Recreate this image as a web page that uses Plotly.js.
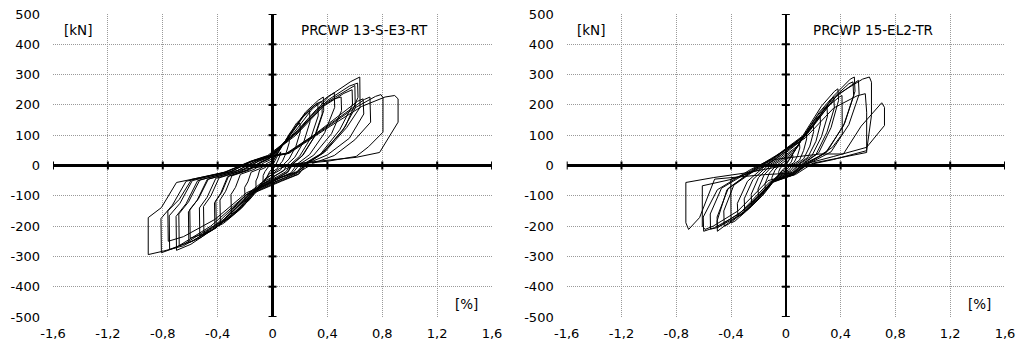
<!DOCTYPE html>
<html>
<head>
<meta charset="utf-8">
<script src="https://cdn.plot.ly/plotly-3.0.1.min.js"></script>
<style>html,body{margin:0;padding:0;background:#fff;}#chart{width:1021px;height:344px;}</style>
</head>
<body>
<div id="chart"></div>
<script>
// ---- tick labels ----
const xTicks = [-1.6, -1.2, -0.8, -0.4, 0, 0.4, 0.8, 1.2, 1.6];
const xTickText = ['-1,6', '-1,2', '-0,8', '-0,4', '0', '0,4', '0,8', '1,2', '1,6'];
const yTicks = [-500, -400, -300, -200, -100, 0, 100, 200, 300, 400, 500];
const yTickText = ['-500', '-400', '-300', '-200', '-100', '0', '100', '200', '300', '400', '500'];

// ---- titles / units ----
const titleLeft = 'PRCWP 13-S-E3-RT';
const titleRight = 'PRCWP 15-EL2-TR';
const unitForce = '[kN]';
const unitDrift = '[%]';

// ---- specimen PRCWP 13-S-E3-RT : [drift %, force kN] ----
const loops13 = [
[0,0],[0.02,18],[0.04,35],[0.06,45],[0.055,34],[0.04,18],[0.025,2],[0.015,-6],[0.005,-10],[-0.02,-19],[-0.04,-38],[-0.06,-51],[-0.07,-55],[-0.068,-33],[-0.055,-20],[-0.03,-4],[-0.015,4],[-0.004,7],
[0.035,38],[0.08,74],[0.108,90],[0.12,95],[0.122,76],[0.1,43],[0.072,14],[0.048,2],[0.036,-10],[0.012,-17],[-0.03,-30],[-0.066,-60],[-0.102,-79],[-0.12,-85],[-0.121,-51],[-0.108,-38],[-0.094,-15],[-0.054,-7],[-0.024,5],[-0.006,10],
[0.06,56],[0.13,109],[0.18,133],[0.2,140],[0.203,112],[0.17,63],[0.12,21],[0.08,3],[0.06,-14],[0.02,-25],[-0.05,-42],[-0.11,-84],[-0.17,-112],[-0.2,-120],[-0.203,-72],[-0.18,-54],[-0.156,-22],[-0.09,-10],[-0.04,7],[-0.01,14],
[0.08,72],[0.175,140],[0.243,171],[0.27,180],[0.273,144],[0.23,81],[0.162,27],[0.108,4],[0.081,-18],[0.027,-32],[-0.075,-56],[-0.165,-112],[-0.255,-149],[-0.3,-160],[-0.303,-96],[-0.27,-72],[-0.234,-29],[-0.135,-13],[-0.06,10],[-0.015,19],
[0.1,82],[0.215,160],[0.297,195],[0.33,205],[0.333,164],[0.28,92],[0.198,31],[0.132,4],[0.099,-20],[0.033,-37],[-0.095,-66],[-0.209,-133],[-0.323,-177],[-0.38,-190],[-0.383,-114],[-0.342,-85],[-0.296,-34],[-0.171,-15],[-0.076,11],[-0.019,23],
[0.11,90],[0.24,176],[0.333,215],[0.37,226],[0.373,181],[0.315,102],[0.222,34],[0.148,5],[0.111,-23],[0.037,-41],[-0.105,-72],[-0.231,-143],[-0.357,-191],[-0.42,-205],[-0.423,-123],[-0.378,-92],[-0.328,-37],[-0.189,-16],[-0.084,12],[-0.021,25],
[0.1,80],[0.23,165],[0.32,204],[0.36,212],[0.362,170],[0.306,96],[0.216,32],[0.144,5],[0.108,-22],[0.036,-40],[-0.1,-68],[-0.226,-136],[-0.349,-181],[-0.41,-195],[-0.413,-117],[-0.369,-88],[-0.32,-35],[-0.185,-15],[-0.082,12],[-0.02,24],
[0.135,96],[0.29,187],[0.405,228],[0.45,240],[0.453,192],[0.38,108],[0.27,36],[0.18,5],[0.135,-24],[0.045,-43],[-0.125,-79],[-0.275,-158],[-0.425,-209],[-0.5,-225],[-0.503,-135],[-0.45,-101],[-0.39,-41],[-0.225,-18],[-0.1,14],[-0.025,27],
[0.15,100],[0.32,185],[0.45,220],[0.5,226],[0.503,181],[0.43,105],[0.3,34],[0.2,5],[0.15,-23],[0.05,-41],[-0.13,-82],[-0.29,-163],[-0.45,-217],[-0.53,-233],[-0.533,-140],[-0.477,-105],[-0.413,-42],[-0.24,-19],[-0.106,14],[-0.027,28],
[0.18,110],[0.38,205],[0.54,250],[0.6,264],[0.603,190],[0.51,115],[0.36,40],[0.24,6],[0.18,-26],[0.06,-47],[-0.15,-89],[-0.335,-178],[-0.52,-237],[-0.61,-255],[-0.613,-153],[-0.55,-115],[-0.476,-46],[-0.27,-20],[-0.12,15],[-0.03,30],
[0.17,100],[0.37,195],[0.52,238],[0.58,250],[0.583,200],[0.49,118],[0.35,38],[0.23,6],[0.17,-25],[0.06,-45],[-0.15,-85],[-0.33,-170],[-0.51,-226],[-0.6,-240],[-0.603,-145],[-0.54,-110],[-0.468,-45],[-0.27,-20],[-0.12,15],[-0.03,30],
[0.19,117],[0.41,228],[0.57,277],[0.636,292],[0.638,192],[0.54,125],[0.38,44],[0.25,6],[0.19,-29],[0.064,-52],[-0.175,-98],[-0.385,-196],[-0.595,-260],[-0.7,-280],[-0.703,-168],[-0.63,-126],[-0.546,-50],[-0.315,-22],[-0.14,17],[-0.035,33],
[0.18,108],[0.4,215],[0.56,262],[0.62,272],[0.623,225],[0.53,128],[0.37,42],[0.25,6],[0.19,-28],[0.062,-50],[-0.17,-95],[-0.374,-188],[-0.578,-248],[-0.68,-265],[-0.683,-160],[-0.612,-120],[-0.53,-48],[-0.306,-21],[-0.136,16],[-0.034,32],
[0.1,40],[0.3,100],[0.5,170],[0.62,212],[0.66,220],[0.665,170],[0.56,90],[0.4,35],[0.26,8],[0.18,-20],[0.06,-40],[-0.19,-97],[-0.41,-194],[-0.64,-258],[-0.75,-277],[-0.753,-166],[-0.675,-125],[-0.585,-50],[-0.34,-22],[-0.15,15],[-0.04,30],
[0.1,38],[0.32,105],[0.55,178],[0.67,218],[0.71,226],[0.715,143],[0.6,85],[0.45,33],[0.3,8],[0.2,-20],[0.07,-38],[-0.19,-90],[-0.42,-178],[-0.65,-235],[-0.76,-250],[-0.763,-150],[-0.68,-112],[-0.59,-46],[-0.34,-21],[-0.15,14],[-0.04,28],
[0.12,42],[0.35,112],[0.6,190],[0.75,228],[0.79,234],[0.805,224],[0.805,110],[0.7,62],[0.61,30],[0.4,14],[0.2,6],[0.1,-10],[-0.2,-100],[-0.45,-200],[-0.7,-270],[-0.81,-288],[-0.813,-175],[-0.73,-131],[-0.63,-52],[-0.36,-24],[-0.16,14],[-0.04,26],
[0.12,40],[0.38,118],[0.65,195],[0.82,226],[0.89,231],[0.915,220],[0.915,143],[0.78,43],[0.61,27],[0.35,15],[0.15,5],[0.05,-10],[-0.2,-100],[-0.41,-206],[-0.65,-265],[-0.8,-283],[-0.906,-294],[-0.906,-172],[-0.81,-139],[-0.7,-56],[-0.4,-28],[-0.15,-8],[0,0]
];

// ---- specimen PRCWP 15-EL2-TR : [drift %, force kN] ----
const loops15 = [
[0,0],[0.015,12],[0.035,27],[0.05,35],[0.052,28],[0.04,12],[0.02,2],[0.005,-6],[-0.015,-10],[-0.035,-22],[-0.05,-30],[-0.052,-20],[-0.04,-8],[-0.02,0],[-0.005,6],
[0.03,22],[0.07,52],[0.093,67],[0.1,70],[0.102,58],[0.085,32],[0.06,10],[0.03,1],[0.01,-12],[-0.03,-18],[-0.07,-40],[-0.093,-53],[-0.1,-55],[-0.102,-40],[-0.08,-16],[-0.05,0],[-0.02,10],
[0.045,35],[0.105,80],[0.14,101],[0.15,105],[0.152,88],[0.13,50],[0.1,18],[0.05,2],[0.02,-15],[-0.04,-25],[-0.1,-58],[-0.14,-77],[-0.15,-80],[-0.152,-60],[-0.12,-25],[-0.075,-2],[-0.03,14],
[0.06,45],[0.14,105],[0.186,131],[0.2,135],[0.203,112],[0.175,64],[0.13,22],[0.07,3],[0.03,-18],[-0.05,-30],[-0.13,-76],[-0.186,-101],[-0.2,-105],[-0.203,-78],[-0.16,-32],[-0.1,-2],[-0.04,16],
[0.075,56],[0.175,128],[0.233,160],[0.25,165],[0.253,138],[0.22,80],[0.16,27],[0.09,4],[0.04,-20],[-0.06,-34],[-0.16,-94],[-0.233,-126],[-0.25,-130],[-0.253,-95],[-0.2,-40],[-0.12,-3],[-0.05,18],
[0.09,66],[0.21,152],[0.28,190],[0.3,195],[0.304,163],[0.26,95],[0.19,32],[0.1,5],[0.05,-22],[-0.07,-38],[-0.19,-108],[-0.28,-146],[-0.3,-150],[-0.304,-110],[-0.24,-46],[-0.14,-4],[-0.06,20],
[0.1,78],[0.245,176],[0.326,218],[0.35,225],[0.354,190],[0.3,110],[0.22,36],[0.12,6],[0.05,-24],[-0.08,-42],[-0.22,-120],[-0.326,-163],[-0.35,-168],[-0.354,-125],[-0.28,-52],[-0.16,-5],[-0.07,22],
[0.11,88],[0.26,196],[0.355,245],[0.38,253],[0.385,215],[0.33,125],[0.24,42],[0.13,6],[0.05,-26],[-0.09,-48],[-0.25,-135],[-0.37,-183],[-0.4,-190],[-0.402,-45],[-0.3,-30],[-0.17,-5],[-0.07,24],
[0.12,85],[0.28,185],[0.39,226],[0.41,231],[0.412,104],[0.34,60],[0.24,30],[0.13,5],[0.05,-28],[-0.1,-52],[-0.28,-145],[-0.42,-194],[-0.45,-200],[-0.453,-150],[-0.38,-65],[-0.2,-8],[-0.08,24],
[0.15,105],[0.35,230],[0.47,285],[0.5,292],[0.505,245],[0.43,140],[0.3,45],[0.16,7],[0.06,-30],[-0.1,-55],[-0.3,-150],[-0.45,-200],[-0.5,-217],[-0.502,-183],[-0.43,-80],[-0.22,-10],[-0.09,25],
[0.14,98],[0.34,220],[0.46,270],[0.49,276],[0.495,230],[0.42,130],[0.29,42],[0.15,6],[0.06,-28],[-0.1,-52],[-0.3,-145],[-0.46,-195],[-0.5,-205],[-0.502,-170],[-0.42,-75],[-0.22,-10],[-0.09,24],
[0.15,100],[0.36,225],[0.5,272],[0.53,281],[0.535,235],[0.46,135],[0.33,45],[0.17,7],[0.06,-30],[-0.11,-58],[-0.32,-160],[-0.5,-205],[-0.55,-210],[-0.552,-160],[-0.47,-75],[-0.24,-12],[-0.1,25],
[0.14,90],[0.35,190],[0.52,230],[0.58,237],[0.59,176],[0.59,43],[0.4,25],[0.2,8],[0.07,-30],[-0.12,-55],[-0.34,-160],[-0.52,-205],[-0.6,-217],[-0.603,-170],[-0.5,-80],[-0.26,-14],[-0.1,22],
[0.16,110],[0.38,235],[0.56,285],[0.61,292],[0.625,275],[0.625,165],[0.59,49],[0.35,20],[0.14,0],[0.05,-28],[-0.13,-50],[-0.35,-150],[-0.53,-200],[-0.59,-211],[-0.61,-200],[-0.61,-67],[-0.39,-45],[-0.2,-15],[-0.08,20],
[0.1,30],[0.25,38],[0.42,38],[0.55,130],[0.7,207],[0.72,192],[0.72,132],[0.59,60],[0.35,30],[0.14,5],[0.05,-25],[-0.15,-30],[-0.35,-38],[-0.52,-45],[-0.63,-172],[-0.71,-211],[-0.73,-189],[-0.73,-56],[-0.53,-40],[-0.3,-25],[-0.1,-8],[0,0]
];

const FONT = {family: 'DejaVu Sans, Verdana, sans-serif', size: 13, color: '#000'};
const AFONT = {family: 'DejaVu Sans, Verdana, sans-serif', size: 13.5, color: '#000'};
const GRID = '#9a9a9a';

function trace(loops, xa, ya) {
  return {
    type: 'scatter', mode: 'lines',
    x: loops.map(p => p[0]), y: loops.map(p => p[1]),
    xaxis: xa, yaxis: ya,
    line: {color: '#000', width: 1},
    hoverinfo: 'skip'
  };
}

function baseX(domain, anchor) {
  return {
    domain: domain, anchor: anchor, range: [-1.6, 1.6],
    tickmode: 'array', tickvals: xTicks, ticktext: xTickText,
    showgrid: true, gridcolor: GRID, griddash: '1px,1px', gridwidth: 1,
    zeroline: true, zerolinecolor: '#000', zerolinewidth: 2.5,
    showline: false, ticks: '', tickfont: FONT, ticklabelstandoff: 7, fixedrange: true
  };
}
function baseY(anchor) {
  return {
    domain: [0, 1], anchor: anchor, range: [-500, 500],
    tickmode: 'array', tickvals: yTicks, ticktext: yTickText,
    showgrid: true, gridcolor: GRID, griddash: '1px,1px', gridwidth: 1,
    zeroline: true, zerolinecolor: '#000', zerolinewidth: 2.5,
    showline: false, ticks: '', tickfont: FONT, ticklabelstandoff: 12, fixedrange: true
  };
}

// tick marks crossing the zero axes, built from the tick arrays
function axisTicks(xr, yr) {
  const s = [];
  xTicks.forEach(t => s.push({type: 'line', xref: xr, yref: yr, x0: t, x1: t,
    ysizemode: 'pixel', yanchor: 0, y0: -4, y1: 4, line: {color: '#000', width: 2}}));
  yTicks.forEach(t => s.push({type: 'line', xref: xr, yref: yr, y0: t, y1: t,
    xsizemode: 'pixel', xanchor: 0, x0: -4, x1: 4, line: {color: '#000', width: 2}}));
  return s;
}

const d1 = [0, 0.4612];
const d2 = [0.5396, 1];

function ann(text, xref, yref, x, y) {
  return {text: text, xref: xref, yref: yref, x: x, y: y,
          xanchor: 'left', yanchor: 'middle', showarrow: false, font: AFONT};
}

const layout = {
  width: 1021, height: 344,
  margin: {l: 53, r: 16, t: 14, b: 27},
  paper_bgcolor: '#fff', plot_bgcolor: '#fff',
  showlegend: false, hovermode: false,
  font: FONT,
  xaxis: baseX(d1, 'y'),
  yaxis: baseY('x'),
  xaxis2: baseX(d2, 'y2'),
  yaxis2: baseY('x2'),
  shapes: axisTicks('x', 'y').concat(axisTicks('x2', 'y2')),
  annotations: [
    ann(unitForce, 'x domain', 'y domain', 0.02, 0.947),
    ann(titleLeft, 'x domain', 'y domain', 0.56, 0.947),
    ann(unitDrift, 'x domain', 'y domain', 0.91, 0.042),
    ann(unitForce, 'x2 domain', 'y2 domain', 0.02, 0.947),
    ann(titleRight, 'x2 domain', 'y2 domain', 0.557, 0.947),
    ann(unitDrift, 'x2 domain', 'y2 domain', 0.91, 0.042)
  ]
};

Plotly.newPlot('chart', [trace(loops13, 'x', 'y'), trace(loops15, 'x2', 'y2')], layout, {staticPlot: true, displayModeBar: false});
</script>
</body>
</html>
